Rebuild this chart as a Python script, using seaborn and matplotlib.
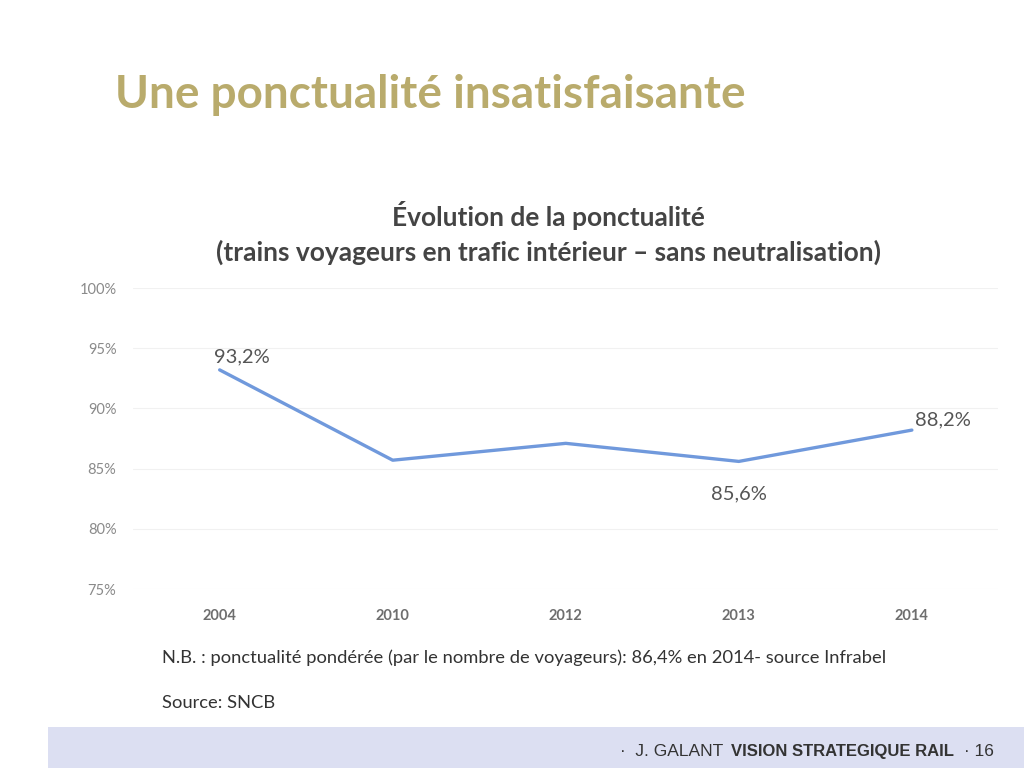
import pandas as pd
import matplotlib.pyplot as plt
import seaborn as sns

# Data
years = ['2004', '2010', '2012', '2013', '2014']
ponctualite = [93.2, 85.7, 87.1, 85.6, 88.2]
labelled = {'2004': '93,2%', '2013': '85,6%', '2014': '88,2%'}
y_ticks = [75, 80, 85, 90, 95, 100]

df = pd.DataFrame({'annee': years, 'ponctualite': ponctualite})

sns.set_style('white')
plt.rcParams['font.family'] = ['Lato', 'DejaVu Sans']

fig = plt.figure(figsize=(10.24, 7.68), dpi=100)
ax = fig.add_axes([0.13, 0.233, 0.845, 0.392])

sns.lineplot(data=df, x='annee', y='ponctualite', sort=False,
             color='#7099dc', linewidth=2.4, ax=ax)

ax.set_ylim(75, 100)
ax.set_xlim(-0.5, len(years) - 0.5)
ax.set_yticks(y_ticks)
ax.set_yticklabels([f'{t}%' for t in y_ticks], color='#8a8a8a', fontsize=10.5)
ax.set_xticks(range(len(years)))
ax.set_xticklabels(years, color='#6e6e6e', fontsize=10.5, fontweight='bold')
ax.tick_params(axis='both', length=0)
ax.tick_params(axis='y', pad=12)
ax.tick_params(axis='x', pad=14)
ax.grid(axis='y', color='#f1f1f1', linewidth=0.8)
sns.despine(ax=ax, left=True, bottom=True)
ax.set_xlabel('')
ax.set_ylabel('')

# Data labels
offsets = {'2004': (0.13, 0.35, 'center', 'bottom'),
           '2013': (0.0, -2.0, 'center', 'top'),
           '2014': (0.18, 0.15, 'center', 'bottom')}
for i, (yr, val) in enumerate(zip(years, ponctualite)):
    if yr in labelled:
        dx, dy, ha, va = offsets[yr]
        ax.text(i + dx, val + dy, labelled[yr], ha=ha, va=va,
                fontsize=14.5, color='#555555')

# Slide title and chart title
fig.text(0.112, 0.876, 'Une ponctualité insatisfaisante', fontsize=33,
         fontweight='bold', color='#b9ab6c', ha='left', va='center')
fig.text(0.536, 0.72, 'Évolution de la ponctualité', fontsize=19,
         fontweight='bold', color='#444444', ha='center', va='center')
fig.text(0.536, 0.672, '(trains voyageurs en trafic intérieur – sans neutralisation)',
         fontsize=19, fontweight='bold', color='#444444', ha='center', va='center')

# Notes
fig.text(0.158, 0.143,
         'N.B. : ponctualité pondérée (par le nombre de voyageurs): 86,4% en 2014- source Infrabel',
         fontsize=13.2, color='#333333', ha='left', va='center')
fig.text(0.158, 0.085, 'Source: SNCB', fontsize=13.2, color='#333333',
         ha='left', va='center')

# Footer band
fig.patches.append(plt.Rectangle((0.047, 0.0), 0.953, 0.054, transform=fig.transFigure,
                                 facecolor='#dcdff2', edgecolor='none', zorder=0))
foot = dict(color='#333333', va='center', family='Liberation Sans')
fig.text(0.605, 0.021, '·  J. GALANT', ha='left', fontsize=12.5, **foot)
fig.text(0.714, 0.021, 'VISION STRATEGIQUE RAIL', ha='left', fontsize=12,
         fontweight='bold', **foot)
fig.text(0.941, 0.021, '· 16', ha='left', fontsize=12.5, **foot)

fig.savefig('out.png', dpi=100, facecolor='white')
